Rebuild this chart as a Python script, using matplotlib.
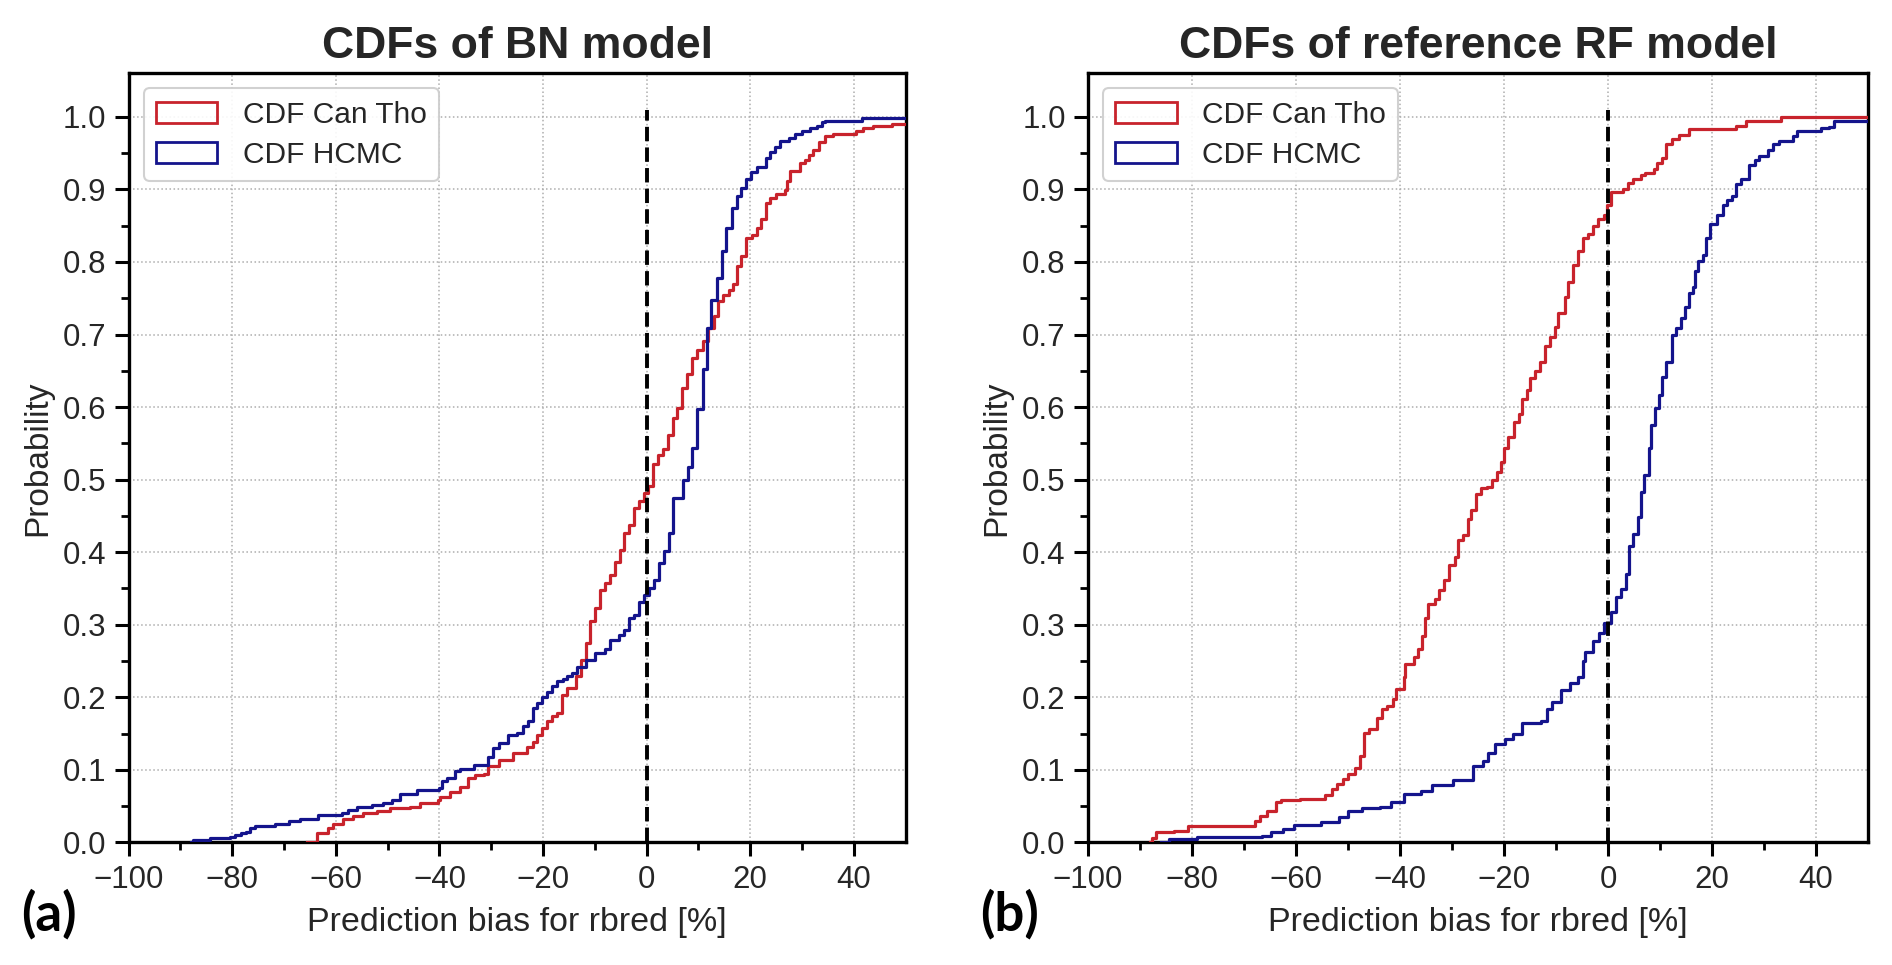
import matplotlib
matplotlib.use("Agg")
import numpy as np
import matplotlib.pyplot as plt
from matplotlib.patches import Patch

# step knots of the empirical CDFs: x where the step rises, level after it
bn_cantho_x = [-65.5, -63.7, -61.5, -60.5, -58.6, -56.6, -54.7, -52.1, -49.6, -45.7,
               -43.8, -40.2, -39.9, -38.0, -36.0, -34.4, -33.1, -31.5, -30.6, -28.6,
               -25.8, -23.2, -22.0, -21.1, -20.3, -19.3, -18.3, -17.4, -16.4, -15.4,
               -13.6, -12.7, -11.7, -10.9, -10.0, -9.0, -8.0, -7.1, -6.1, -5.1,
               -4.3, -3.4, -2.5, -1.4, -0.5, 0.3, 1.3, 2.2, 3.2, 4.2,
               5.0, 5.8, 6.9, 7.8, 8.8, 9.8, 10.8, 11.8, 12.9, 13.8,
               14.8, 15.8, 16.7, 17.4, 18.3, 19.2, 20.3, 21.2, 22.0, 23.0,
               23.9, 25.0, 26.7, 27.0, 27.7, 29.5, 30.6, 31.4, 32.2, 33.3,
               34.4, 36.0, 40.5, 41.8, 43.7, 47.3, 52.0]
bn_cantho_y = [0.0, 0.013, 0.020, 0.026, 0.033, 0.037, 0.040, 0.044, 0.047, 0.049,
               0.054, 0.059, 0.063, 0.070, 0.077, 0.089, 0.093, 0.095, 0.105, 0.114,
               0.123, 0.132, 0.139, 0.148, 0.158, 0.167, 0.174, 0.178, 0.203, 0.213,
               0.229, 0.252, 0.275, 0.305, 0.323, 0.348, 0.358, 0.369, 0.387, 0.403,
               0.426, 0.438, 0.461, 0.470, 0.482, 0.491, 0.521, 0.534, 0.542, 0.562,
               0.585, 0.599, 0.626, 0.645, 0.668, 0.679, 0.691, 0.709, 0.725, 0.746,
               0.755, 0.762, 0.769, 0.794, 0.808, 0.833, 0.837, 0.847, 0.859, 0.881,
               0.888, 0.894, 0.899, 0.912, 0.926, 0.937, 0.941, 0.948, 0.955, 0.965,
               0.973, 0.977, 0.980, 0.985, 0.987, 0.990, 0.990]

bn_hcmc_x = [-88.0, -87.6, -84.3, -80.4, -79.5, -78.4, -77.4, -76.6, -75.6, -71.7,
             -69.0, -66.9, -63.4, -58.9, -57.6, -56.0, -53.1, -50.9, -49.2, -47.6,
             -44.4, -40.0, -39.6, -38.6, -37.0, -36.0, -33.3, -30.6, -29.6, -28.6,
             -26.8, -25.1, -23.9, -23.0, -22.0, -21.1, -20.2, -19.2, -18.2, -17.3,
             -16.2, -15.3, -14.5, -13.5, -11.7, -10.0, -8.0, -7.1, -5.3, -4.3,
             -3.4, -2.4, -1.4, -0.5, 0.4, 1.4, 2.4, 3.4, 4.3, 5.1,
             7.1, 8.0, 8.8, 9.8, 10.8, 11.6, 12.5, 13.6, 14.5, 15.3,
             16.4, 17.4, 18.3, 19.2, 20.1, 21.2, 23.0, 23.8, 24.8, 25.7,
             27.5, 28.6, 29.9, 31.5, 32.8, 33.8, 34.4, 41.5, 52.0]
bn_hcmc_y = [0.0, 0.003, 0.006, 0.008, 0.010, 0.013, 0.015, 0.020, 0.023, 0.026,
             0.030, 0.033, 0.038, 0.041, 0.045, 0.049, 0.052, 0.055, 0.059, 0.067,
             0.072, 0.075, 0.084, 0.089, 0.098, 0.101, 0.107, 0.118, 0.130, 0.137,
             0.148, 0.151, 0.160, 0.167, 0.185, 0.192, 0.201, 0.208, 0.215, 0.222,
             0.225, 0.229, 0.233, 0.242, 0.252, 0.261, 0.266, 0.279, 0.286, 0.293,
             0.309, 0.314, 0.332, 0.341, 0.351, 0.362, 0.385, 0.401, 0.426, 0.475,
             0.500, 0.518, 0.544, 0.597, 0.652, 0.709, 0.747, 0.778, 0.815, 0.847,
             0.875, 0.891, 0.902, 0.914, 0.924, 0.931, 0.944, 0.951, 0.958, 0.967,
             0.971, 0.977, 0.980, 0.984, 0.987, 0.993, 0.995, 0.998, 0.998]

rf_cantho_x = [-88.0, -87.6, -86.9, -83.4, -80.7, -67.9, -66.9, -65.5, -63.8, -62.8,
               -59.3, -54.5, -53.1, -52.1, -51.0, -50.0, -48.6, -47.6, -46.9, -45.9,
               -44.5, -43.4, -42.4, -41.4, -40.7, -39.3, -39.0, -37.2, -36.5, -35.7,
               -35.1, -34.6, -33.3, -32.4, -31.6, -30.5, -29.5, -28.9, -27.9, -27.0,
               -26.3, -25.4, -24.4, -23.2, -22.2, -21.3, -20.6, -20.0, -19.2, -18.1,
               -17.1, -16.5, -15.6, -14.9, -14.0, -13.0, -12.1, -11.1, -10.2, -9.6,
               -8.3, -7.7, -6.7, -5.7, -4.8, -3.8, -2.9, -1.9, -0.7, -0.1,
               0.6, 2.8, 3.8, 4.9, 6.3, 7.2, 8.8, 9.5, 10.4, 11.2,
               12.3, 13.6, 15.5, 24.7, 26.6, 33.3, 52.0]
rf_cantho_y = [0.0, 0.006, 0.014, 0.016, 0.022, 0.030, 0.037, 0.044, 0.056, 0.058,
               0.060, 0.065, 0.074, 0.081, 0.088, 0.095, 0.102, 0.119, 0.151, 0.156,
               0.172, 0.184, 0.188, 0.198, 0.212, 0.228, 0.246, 0.256, 0.266, 0.285,
               0.310, 0.328, 0.335, 0.348, 0.362, 0.382, 0.394, 0.417, 0.424, 0.446,
               0.458, 0.480, 0.488, 0.490, 0.500, 0.510, 0.525, 0.544, 0.559, 0.579,
               0.591, 0.611, 0.623, 0.640, 0.650, 0.662, 0.684, 0.696, 0.711, 0.730,
               0.752, 0.773, 0.796, 0.815, 0.833, 0.838, 0.849, 0.859, 0.865, 0.878,
               0.896, 0.900, 0.909, 0.915, 0.920, 0.923, 0.928, 0.936, 0.944, 0.962,
               0.970, 0.975, 0.983, 0.988, 0.994, 1.0, 1.0]

rf_hcmc_x = [-86.0, -84.5, -79.0, -66.6, -64.8, -62.4, -60.3, -55.2, -51.7, -50.0,
             -47.2, -43.8, -41.7, -39.3, -35.9, -33.8, -29.7, -25.9, -24.1, -23.1,
             -21.7, -19.7, -18.3, -16.6, -12.8, -11.7, -10.7, -9.0, -7.3, -5.7,
             -4.8, -4.5, -2.9, -1.7, -0.7, 0.6, 1.5, 2.5, 3.4, 4.1,
             4.9, 5.8, 6.4, 7.0, 7.9, 8.3, 9.1, 9.8, 10.4, 11.2,
             12.3, 13.1, 14.0, 14.9, 15.5, 16.3, 16.8, 17.4, 18.3, 18.9,
             19.6, 20.9, 22.1, 22.9, 23.9, 24.6, 25.6, 27.2, 28.2, 29.1,
             30.7, 31.7, 32.9, 35.5, 36.4, 40.9, 42.5, 43.4, 52.0]
rf_hcmc_y = [0.0, 0.005, 0.007, 0.009, 0.015, 0.019, 0.024, 0.028, 0.035, 0.043,
             0.047, 0.049, 0.056, 0.067, 0.071, 0.079, 0.086, 0.105, 0.112, 0.123,
             0.135, 0.142, 0.149, 0.165, 0.167, 0.184, 0.193, 0.210, 0.220, 0.228,
             0.250, 0.262, 0.278, 0.288, 0.302, 0.317, 0.338, 0.349, 0.370, 0.409,
             0.425, 0.449, 0.483, 0.507, 0.544, 0.575, 0.599, 0.617, 0.641, 0.662,
             0.699, 0.709, 0.723, 0.738, 0.757, 0.765, 0.788, 0.802, 0.809, 0.833,
             0.852, 0.865, 0.878, 0.886, 0.891, 0.907, 0.915, 0.933, 0.941, 0.946,
             0.954, 0.962, 0.967, 0.973, 0.981, 0.984, 0.986, 0.994, 0.994]

titles = ["CDFs of BN model", "CDFs of reference RF model"]
panel_tags = ["(a)", "(b)"]
series_labels = ["CDF Can Tho", "CDF HCMC"]
red = "#c8232c"
blue = "#14148c"
txt = "#262626"

plt.rcParams["font.family"] = ["Liberation Sans", "DejaVu Sans"]
plt.rcParams["text.color"] = txt
plt.rcParams["axes.labelcolor"] = txt
plt.rcParams["xtick.color"] = txt
plt.rcParams["ytick.color"] = txt

fig = plt.figure(figsize=(18.92, 9.65), dpi=100)
ax_a = fig.add_axes([0.068, 0.127, 0.4107, 0.797])
ax_b = fig.add_axes([0.575, 0.127, 0.4123, 0.797])

panels = [
    (ax_a, bn_cantho_x, bn_cantho_y, bn_hcmc_x, bn_hcmc_y),
    (ax_b, rf_cantho_x, rf_cantho_y, rf_hcmc_x, rf_hcmc_y),
]

for i, (ax, cx, cy, hx, hy) in enumerate(panels):
    ax.step(cx, cy, where="post", color=red, lw=2.3, zorder=3)
    ax.step(hx, hy, where="post", color=blue, lw=2.3, zorder=3)
    ax.vlines(0, 0, 1.01, colors="k", linestyles="--", lw=2.8, zorder=4)

    ax.set_xlim(-100, 50)
    ax.set_ylim(0, 1.06)
    ax.set_xticks(np.arange(-100, 41, 20))
    ax.set_xticks(np.arange(-90, 50, 20), minor=True)
    ax.set_yticks(np.round(np.arange(0, 1.01, 0.1), 1))
    ax.set_yticks(np.arange(0.05, 1.0, 0.1), minor=True)
    ax.tick_params(axis="both", which="major", labelsize=22.5, length=10, width=2.2,
                   direction="out", color="k", pad=6)
    ax.tick_params(axis="both", which="minor", length=6, width=2.0, color="k")
    ax.grid(True, which="major", linestyle=":", color="0.68", lw=1.1)
    for sp in ax.spines.values():
        sp.set_linewidth(2.4)
        sp.set_color("k")

    ax.set_title(titles[i], fontsize=32, fontweight="bold", pad=11)
    ax.set_xlabel("Prediction bias for rbred [%]", fontsize=24.5, labelpad=9)
    ax.set_ylabel("Probability", fontsize=24, labelpad=7)

    handles = [Patch(facecolor="none", edgecolor=red, lw=2),
               Patch(facecolor="none", edgecolor=blue, lw=2)]
    leg = ax.legend(handles, series_labels, loc="upper left", fontsize=21.5,
                    handlelength=2.05, handleheight=0.72, handletextpad=0.85,
                    labelspacing=0.4, borderaxespad=0.5, borderpad=0.42,
                    fancybox=True, framealpha=0.9)
    leg.get_frame().set_edgecolor("0.8")
    leg.get_frame().set_linewidth(1.5)

fig.text(0.011, 0.036, panel_tags[0], fontsize=38, fontweight="bold",
         family=["Lato", "DejaVu Sans"], color="k")
fig.text(0.518, 0.036, panel_tags[1], fontsize=38, fontweight="bold",
         family=["Lato", "DejaVu Sans"], color="k")

fig.savefig("out.png", dpi=100)
